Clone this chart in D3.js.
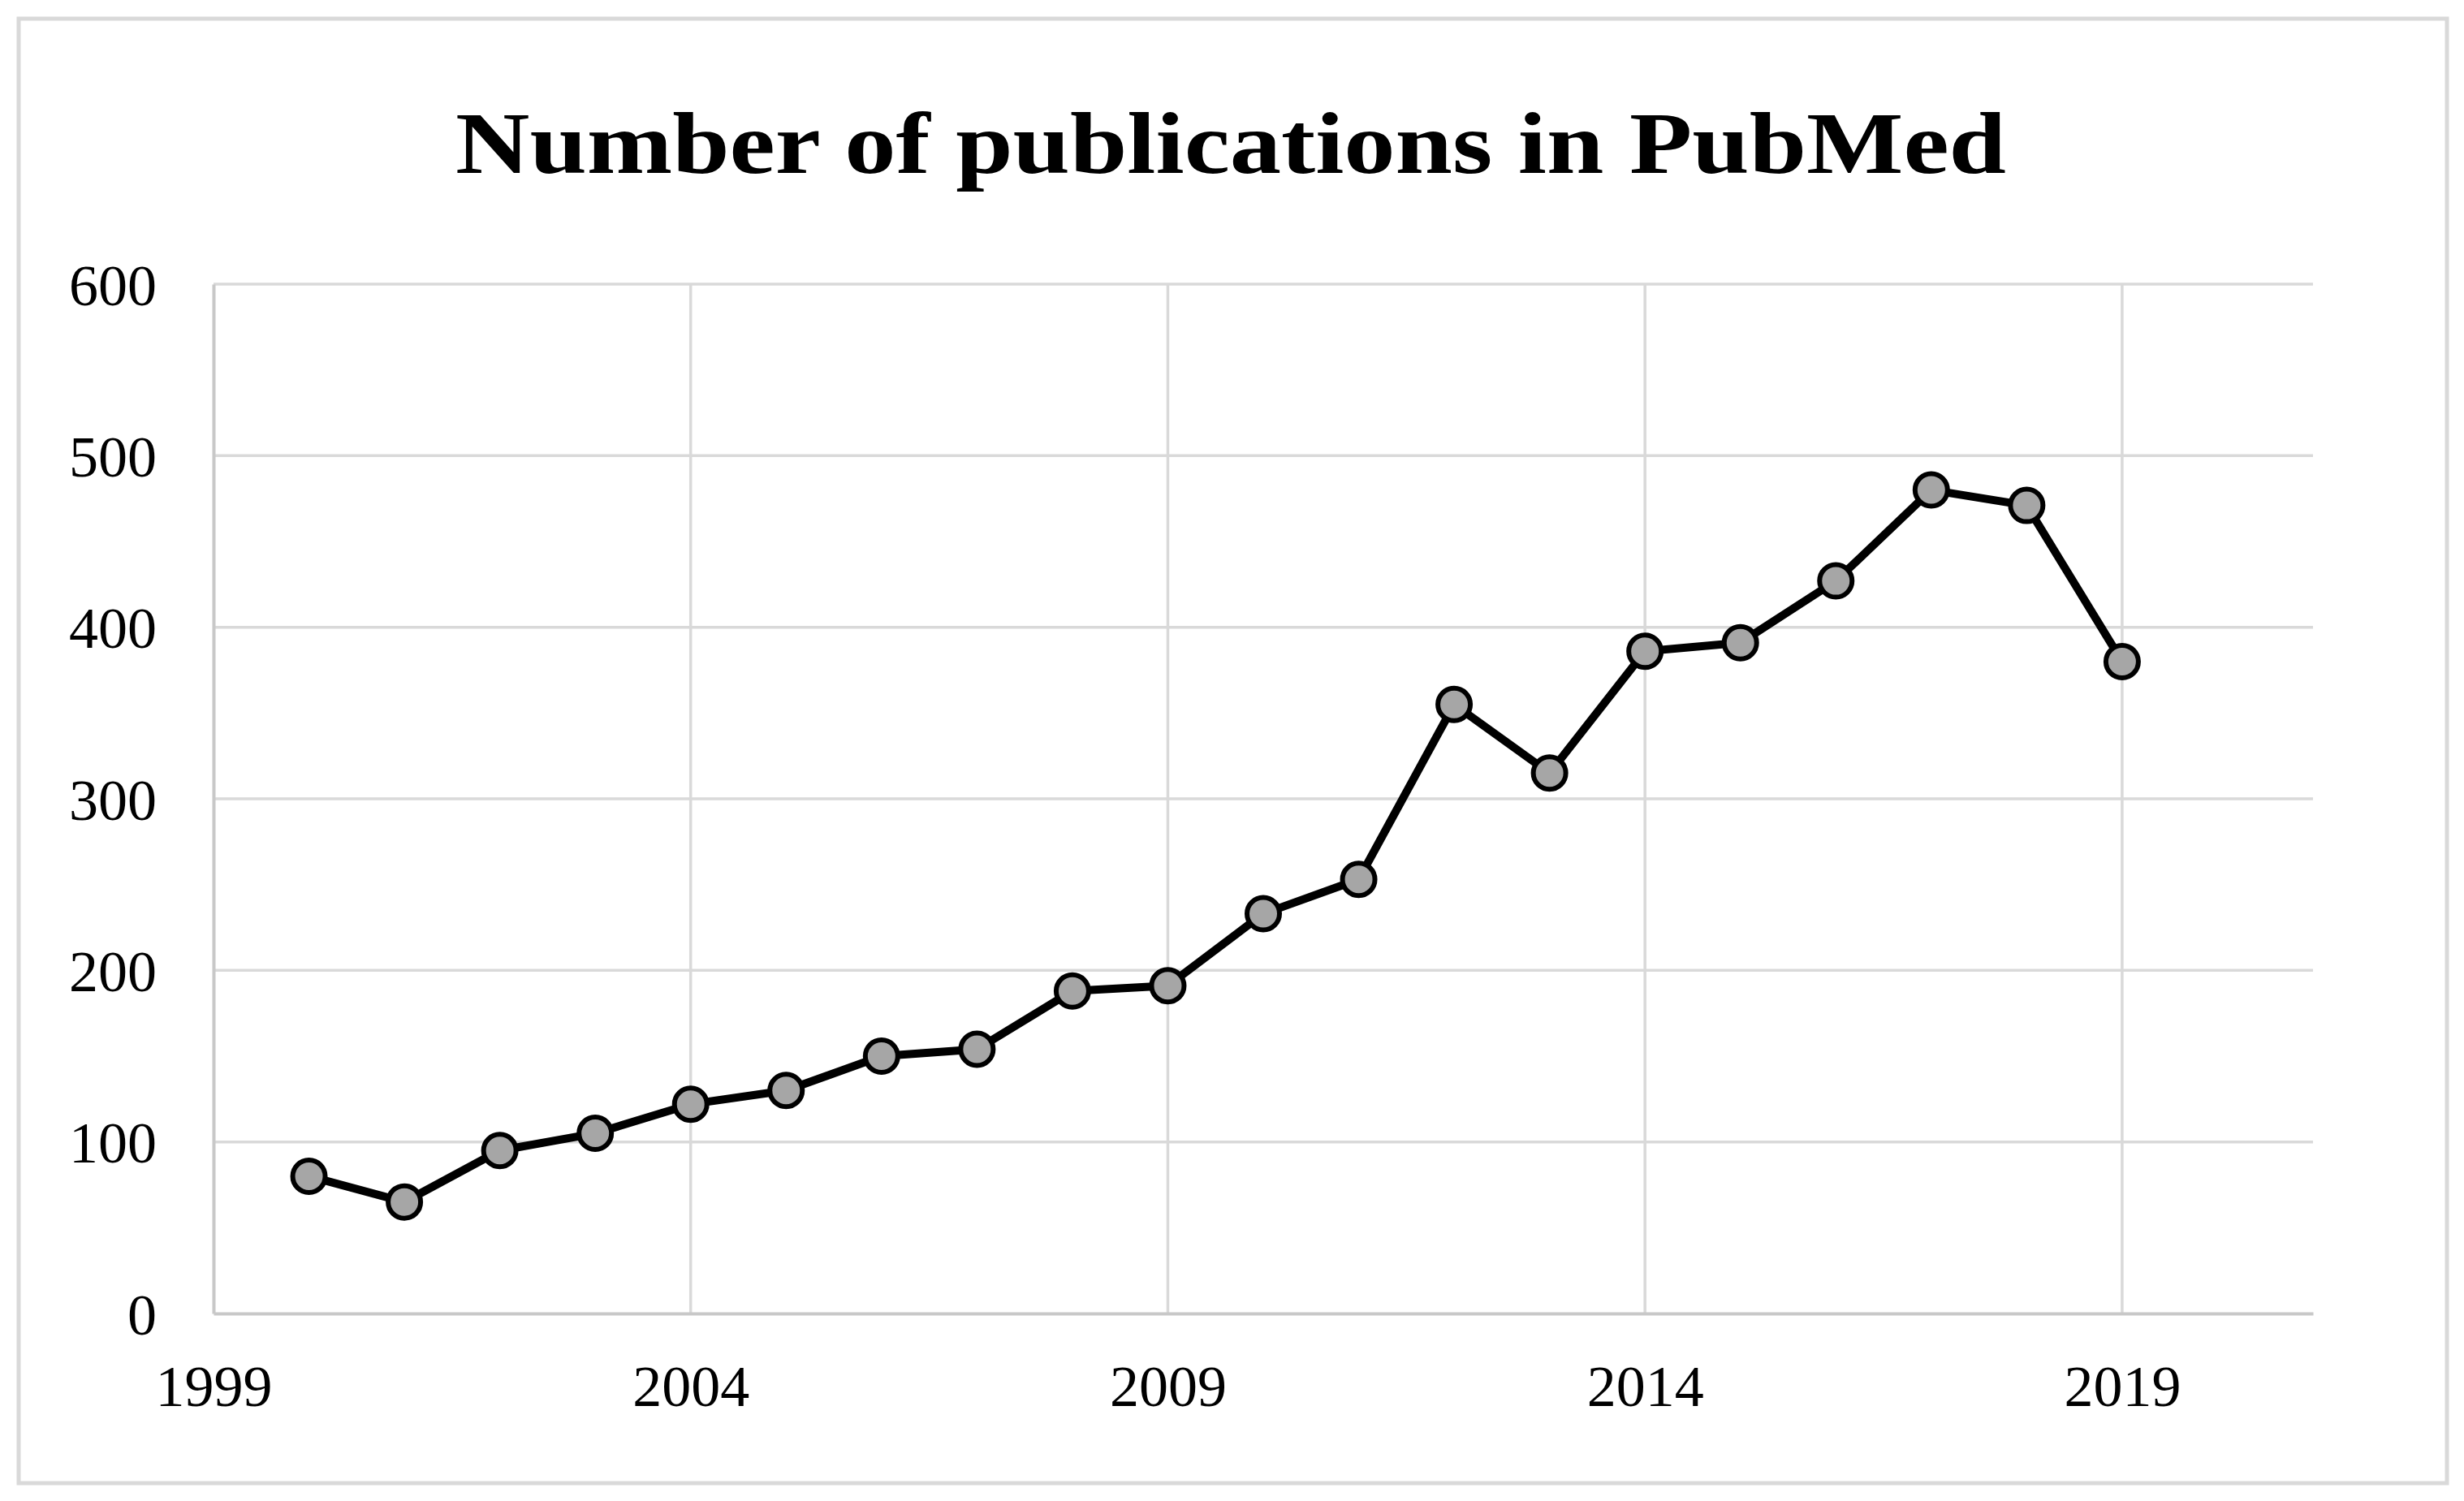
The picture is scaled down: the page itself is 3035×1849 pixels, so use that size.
<!DOCTYPE html>
<html>
<head>
<meta charset="utf-8">
<script src="https://cdn.jsdelivr.net/npm/d3@7"></script>
<style>
  body { margin: 0; background: #fff; }
  text { font-family: "Liberation Serif", "DejaVu Serif", serif; fill: #000; }
</style>
</head>
<body>
<script>
// data
const years = [2000, 2001, 2002, 2003, 2004, 2005, 2006, 2007, 2008, 2009,
               2010, 2011, 2012, 2013, 2014, 2015, 2016, 2017, 2018, 2019];
const counts = [80, 65, 95, 105, 122, 130, 150, 154, 188, 191,
                233, 253, 355, 315, 386, 391, 427, 480, 471, 380];
const xTicks = [1999, 2004, 2009, 2014, 2019];
const yTicks = [0, 100, 200, 300, 400, 500, 600];
const title = "Number of publications in PubMed";

let width = 3035, height = 1849;
let margin = {top: 350, right: 186, bottom: 231, left: 263};

let svg = d3.select('body')
            .append('svg')
            .attr('width', width)
            .attr('height', height);

// outer frame
svg.append('rect')
   .attr('x', 23).attr('y', 23)
   .attr('width', 2991).attr('height', 1804)
   .attr('fill', '#fff')
   .attr('stroke', '#d9d9d9')
   .attr('stroke-width', 5);

let x = d3.scaleLinear()
          .domain([1999, 2021])
          .range([margin.left, width - margin.right]);

let y = d3.scaleLinear()
          .domain([0, 600])
          .range([height - margin.bottom, margin.top]);

// gridlines
svg.append('g')
   .selectAll('line')
   .data(yTicks.filter(d => d > 0))
   .enter().append('line')
   .attr('x1', x(1999)).attr('x2', x(2021))
   .attr('y1', d => y(d)).attr('y2', d => y(d))
   .attr('stroke', '#d9d9d9')
   .attr('stroke-width', 3.5);

svg.append('g')
   .selectAll('line')
   .data(xTicks.filter(d => d > 1999))
   .enter().append('line')
   .attr('x1', d => x(d)).attr('x2', d => x(d))
   .attr('y1', y(0)).attr('y2', y(600))
   .attr('stroke', '#d9d9d9')
   .attr('stroke-width', 3.5);

// axes
let xAxis = svg.append('g')
   .attr('transform', 'translate(0,' + y(0) + ')')
   .call(d3.axisBottom(x).tickValues(xTicks).tickFormat(d3.format('d')).tickSize(0).tickPadding(63));

let yAxis = svg.append('g')
   .attr('transform', 'translate(' + x(1999) + ',0)')
   .call(d3.axisLeft(y).tickValues(yTicks).tickSize(0).tickPadding(70));

[xAxis, yAxis].forEach(a => {
  a.select('.domain').attr('stroke', '#c8c8c8').attr('stroke-width', 4);
  a.selectAll('text')
   .style('font-family', '"Liberation Serif", serif')
   .attr('font-size', 72)
   .attr('fill', '#000');
});
yAxis.selectAll('text').attr('dy', '0.35em');

// line + markers
let pts = years.map((yr, i) => ({year: yr, value: counts[i]}));

svg.append('path')
   .datum(pts)
   .attr('fill', 'none')
   .attr('stroke', '#000')
   .attr('stroke-width', 10)
   .attr('stroke-linejoin', 'round')
   .attr('d', d3.line().x(d => x(d.year)).y(d => y(d.value)));

svg.append('g')
   .selectAll('circle')
   .data(pts)
   .enter().append('circle')
   .attr('cx', d => x(d.year))
   .attr('cy', d => y(d.value))
   .attr('r', 20)
   .attr('fill', '#a6a6a6')
   .attr('stroke', '#000')
   .attr('stroke-width', 6);

// title
svg.append('text')
   .attr('x', 1516)
   .attr('y', 213)
   .attr('text-anchor', 'middle')
   .attr('font-size', 108)
   .attr('font-weight', 'bold')
   .attr('textLength', 1910)
   .attr('lengthAdjust', 'spacingAndGlyphs')
   .text(title);
</script>
</body>
</html>
